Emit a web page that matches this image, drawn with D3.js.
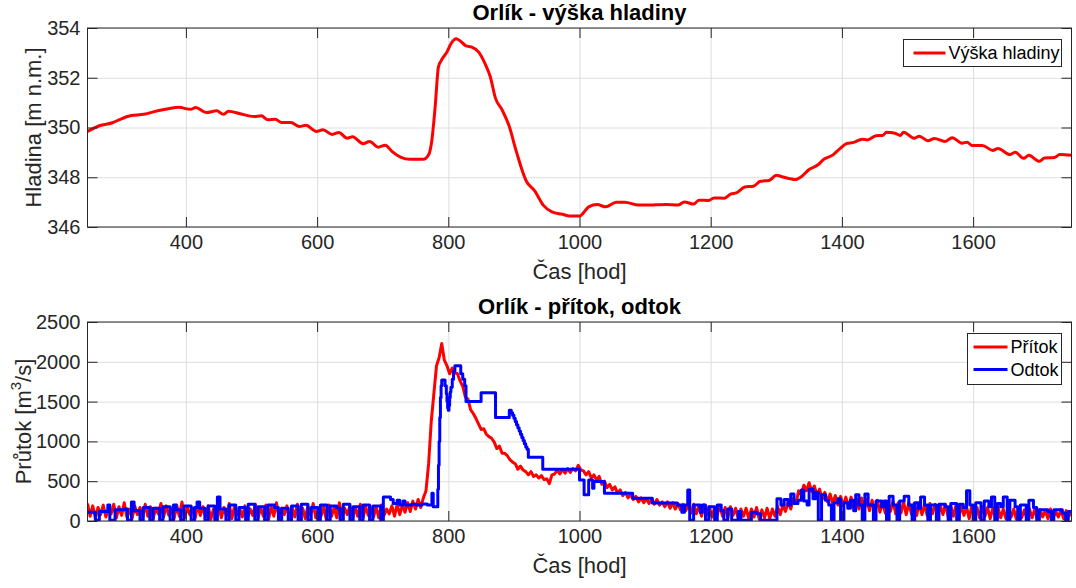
<!DOCTYPE html>
<html>
<head>
<meta charset="utf-8">
<script src="https://cdn.jsdelivr.net/npm/d3@7"></script>
<style>
  html, body { margin: 0; padding: 0; background: #ffffff; }
  svg { display: block; font-family: "Liberation Sans", Arial, Helvetica, sans-serif; }
</style>
</head>
<body>
<svg id="chart" width="1076" height="588"></svg>
<script>
// ---- Water level of the Orlík reservoir [m n.m.] ----
const levelHours = [
  250, 268, 289, 300, 315, 336, 357, 373, 389, 407,
  415, 431, 447, 457, 465, 483, 504, 515, 525, 536,
  546, 560, 573, 583, 599, 609, 623, 633, 646, 654,
  670, 680, 693, 704, 714, 728, 741, 762, 770, 775,
  780, 785, 791, 798, 804, 812, 820, 827, 835, 846,
  856, 864, 872, 882, 893, 903, 919, 932, 945, 958,
  974, 985, 1000, 1006, 1014, 1027, 1040, 1056, 1069, 1090,
  1116, 1132, 1150, 1160, 1174, 1182, 1197, 1205, 1221, 1231,
  1239, 1252, 1265, 1276, 1289, 1300, 1310, 1329, 1339, 1350,
  1363, 1373, 1386, 1397, 1407, 1418, 1431, 1439, 1452, 1462,
  1468, 1481, 1489, 1494, 1510, 1518, 1531, 1541, 1557, 1568,
  1583, 1591, 1598, 1614, 1630, 1638, 1656, 1664, 1677, 1685,
  1701, 1709, 1724, 1732, 1750
];
const levelValues = [
  349.84, 350.07, 350.20, 350.33, 350.47, 350.53, 350.67, 350.75, 350.81, 350.73,
  350.80, 350.60, 350.67, 350.53, 350.65, 350.55, 350.44, 350.47, 350.31, 350.33,
  350.20, 350.20, 350.04, 350.09, 349.84, 349.91, 349.72, 349.80, 349.57, 349.63,
  349.35, 349.44, 349.21, 349.29, 349.04, 348.80, 348.72, 348.72, 348.90, 349.50,
  350.84, 352.44, 352.77, 353.04, 353.37, 353.57, 353.44, 353.28, 353.24, 353.04,
  352.57, 352.04, 351.17, 350.71, 350.04, 349.10, 347.84, 347.44, 346.87, 346.61,
  346.51, 346.44, 346.44, 346.57, 346.81, 346.90, 346.81, 347.00, 347.00, 346.88,
  346.89, 346.90, 346.88, 347.01, 346.92, 347.08, 347.07, 347.17, 347.16, 347.33,
  347.37, 347.61, 347.64, 347.84, 347.87, 348.08, 348.01, 347.91, 348.04, 348.31,
  348.49, 348.73, 348.89, 349.15, 349.35, 349.40, 349.53, 349.50, 349.67, 349.68,
  349.81, 349.77, 349.68, 349.81, 349.57, 349.65, 349.47, 349.56, 349.44, 349.59,
  349.37, 349.41, 349.28, 349.28, 349.08, 349.16, 348.91, 349.01, 348.76, 348.88,
  348.64, 348.77, 348.79, 348.91, 348.88
];

// ---- Inflow [m3/s], sampled every 4 hours from hour 250 ----
const inflowStart = 250;
const inflowStep = 4;
const inflowValues = [
  220, 60, 190, 40, 170, 80, 200, 50, 160, 90,
  210, 40, 180, 70, 230, 50, 150, 30, 190, 80,
  170, 40, 210, 60, 180, 30, 160, 90, 220, 50,
  190, 70, 150, 30, 200, 60, 240, 40, 170, 80,
  160, 30, 210, 70, 180, 50, 190, 20, 150, 90,
  200, 40, 170, 60, 220, 30, 180, 80, 160, 50,
  190, 30, 150, 70, 210, 40, 170, 60, 200, 20,
  180, 60, 230, 40, 160, 80, 190, 30, 170, 50,
  210, 50, 160, 30, 190, 70, 220, 40, 150, 60,
  180, 20, 200, 60, 170, 40, 230, 50, 160, 80,
  190, 30, 170, 60, 210, 40, 180, 70, 160, 50,
  180, 40, 200, 70, 150, 90, 190, 60, 210, 80,
  200, 110, 230, 120, 250, 150, 270, 170, 290, 380,
  720, 1250, 1600, 1950, 2050, 2230, 2020, 1950, 1850, 1920,
  1860, 1850, 1760, 1690, 1560, 1530, 1400, 1350, 1290, 1220,
  1150, 1160, 1090, 1060, 1040, 990, 910, 940, 850, 850,
  820, 770, 740, 720, 650, 690, 640, 620, 580, 620,
  560, 580, 540, 570, 520, 530, 470, 580, 590, 640,
  590, 650, 600, 660, 610, 660, 630, 700, 640, 630,
  580, 620, 540, 580, 510, 560, 460, 500, 420, 460,
  390, 430, 350, 390, 320, 360, 290, 330, 270, 310,
  240, 290, 230, 280, 220, 270, 210, 270, 200, 240,
  180, 240, 160, 230, 150, 220, 140, 210, 130, 200,
  100, 210, 90, 190, 60, 200, 80, 180, 50, 170,
  80, 190, 60, 170, 40, 180, 70, 160, 30, 150,
  60, 160, 30, 150, 50, 170, 20, 140, 40, 160,
  30, 150, 60, 180, 80, 200, 120, 240, 150, 280,
  220, 380, 330, 450, 380, 480, 370, 440, 320, 400,
  270, 360, 240, 340, 220, 320, 200, 310, 190, 300,
  170, 300, 160, 280, 150, 290, 140, 270, 130, 260,
  120, 260, 110, 250, 100, 240, 120, 250, 90, 230,
  100, 240, 80, 230, 90, 220, 70, 230, 80, 210,
  70, 220, 90, 210, 60, 200, 80, 210, 50, 190,
  60, 200, 40, 190, 70, 180, 30, 190, 50, 170,
  40, 180, 60, 170, 30, 160, 50, 170, 40, 150,
  30, 160, 50, 150, 20, 170, 40, 140, 30, 150,
  40, 150, 20, 140, 50, 130, 30, 150, 40, 120,
  50, 140, 30, 130, 60, 110
];

// ---- Outflow [m3/s] as [hour, value]; each value holds until the next hour ----
const outflow = [
  [250, 110], [262, 10], [268, 120], [281, 200], [284, 10], [292, 140], [306, 150], [311, 10],
  [317, 240], [321, 130], [330, 10], [335, 170], [345, 10], [350, 160], [360, 10], [365, 180],
  [376, 10], [381, 200], [385, 140], [392, 10], [397, 190], [408, 10], [413, 170], [417, 240],
  [421, 160], [429, 10], [434, 190], [444, 10], [448, 300], [452, 150], [461, 10], [466, 200],
  [476, 10], [481, 170], [491, 10], [495, 210], [505, 10], [510, 180], [520, 10], [525, 200],
  [535, 170], [541, 10], [546, 160], [556, 10], [561, 190], [571, 10], [576, 210], [586, 10],
  [591, 170], [601, 10], [605, 200], [615, 10], [620, 190], [630, 160], [635, 10], [640, 210],
  [650, 10], [655, 180], [665, 10], [670, 200], [680, 10], [685, 190], [697, 10],
  [701, 300], [712, 270], [716, 220], [722, 260], [726, 200], [731, 250], [734, 200], [744, 210],
  [752, 200], [760, 215], [768, 200], [775, 350], [777, 180],
  [784, 400], [785, 700], [786, 1000], [787, 1300], [788, 1550], [789, 1700], [790, 1770],
  [795, 1700], [797, 1600], [798, 1500], [799, 1420], [800, 1390], [801, 1450], [802, 1550],
  [803, 1620], [804, 1680], [806, 1780], [808, 1880], [810, 1950], [819, 1850], [822, 1780],
  [825, 1700], [827, 1500], [850, 1610], [872, 1300], [893, 1390], [896, 1360], [898, 1330],
  [900, 1290], [902, 1250], [904, 1210], [906, 1170], [908, 1130], [910, 1090], [912, 1050],
  [914, 1010], [916, 970], [918, 930], [920, 900], [922, 800], [944, 650], [1000, 515],
  [1007, 330], [1014, 515], [1020, 410], [1022, 495], [1038, 350], [1081, 285], [1111, 225],
  [1149, 200], [1156, 110], [1160, 200], [1165, 390], [1168, 10], [1174, 200], [1184, 110],
  [1187, 200], [1192, 10], [1197, 180], [1206, 10], [1210, 200], [1216, 130], [1220, 10],
  [1226, 150], [1232, 10], [1242, 120], [1246, 10], [1262, 110], [1270, 90], [1276, 10],
  [1301, 280], [1307, 200], [1312, 270], [1318, 200], [1322, 340], [1327, 220], [1333, 260],
  [1338, 390], [1342, 250], [1347, 200], [1350, 400], [1356, 280], [1360, 360], [1364, 10],
  [1369, 330], [1375, 260], [1380, 200], [1384, 10], [1388, 230], [1394, 280], [1398, 10],
  [1403, 230], [1409, 160], [1413, 260], [1418, 130], [1421, 330], [1426, 200], [1431, 10],
  [1435, 340], [1440, 200], [1448, 10], [1452, 250], [1460, 180], [1464, 250], [1468, 10],
  [1472, 310], [1478, 200], [1484, 10], [1488, 250], [1495, 310], [1502, 200], [1507, 10],
  [1511, 230], [1516, 160], [1520, 300], [1526, 200], [1531, 10], [1535, 200], [1544, 10],
  [1548, 210], [1557, 180], [1562, 10], [1566, 220], [1575, 10], [1579, 210], [1585, 170],
  [1590, 380], [1595, 200], [1600, 10], [1604, 230], [1612, 10], [1617, 250], [1624, 180],
  [1628, 300], [1633, 10], [1637, 220], [1642, 180], [1646, 300], [1652, 10], [1656, 260],
  [1664, 180], [1668, 10], [1672, 200], [1681, 10], [1685, 260], [1692, 170], [1697, 10],
  [1701, 140], [1714, 120], [1719, 10], [1723, 140], [1736, 100], [1741, 10], [1745, 120],
  [1750, 120]
];

// ---- Axis ticks ----
const timeTicks = [400, 600, 800, 1000, 1200, 1400, 1600];
const levelTicks = [346, 348, 350, 352, 354];
const flowTicks = [0, 500, 1000, 1500, 2000, 2500];

const inflowSeries = inflowValues.map((v, i) => ({ h: inflowStart + i * inflowStep, v }));
const outflowSeries = outflow.map(([h, v]) => ({ h, v }));
const levelSeries = levelHours.map((h, i) => ({ h, v: levelValues[i] }));

// ---- Layout ----
const svg = d3.select("#chart");
const inkColor = "#262626";
const gridColor = "#dedede";
const plotLeft = 87.5, plotRight = 1071.5, plotHeight = 199;

const x = d3.scaleLinear().domain([250, 1750]).range([plotLeft, plotRight]);

function drawPanel(opts) {
  const top = opts.top, bottom = top + plotHeight;
  const y = d3.scaleLinear().domain(opts.yDomain).range([bottom, top]);
  const g = svg.append("g");
  const clipId = "clip-" + opts.key;
  svg.append("defs").append("clipPath").attr("id", clipId)
    .append("rect").attr("x", plotLeft).attr("y", top)
    .attr("width", plotRight - plotLeft).attr("height", plotHeight);

  // grid
  const grid = g.append("g").attr("class", "grid");
  grid.append("g").attr("transform", `translate(0,${bottom})`)
    .call(d3.axisBottom(x).tickValues(timeTicks).tickSize(-plotHeight).tickFormat(""))
    .call(s => s.select(".domain").remove())
    .call(s => s.selectAll("line").attr("stroke", gridColor));
  grid.append("g").attr("transform", `translate(${plotLeft},0)`)
    .call(d3.axisLeft(y).tickValues(opts.yTicks).tickSize(-(plotRight - plotLeft)).tickFormat(""))
    .call(s => s.select(".domain").remove())
    .call(s => s.selectAll("line").attr("stroke", gridColor));

  // data lines
  const plot = g.append("g").attr("clip-path", `url(#${clipId})`);
  opts.series.forEach(sr => {
    plot.append("path")
      .datum(sr.data)
      .attr("fill", "none")
      .attr("stroke", sr.color)
      .attr("stroke-width", 3)
      .attr("stroke-linejoin", "round")
      .attr("d", d3.line().x(d => x(d.h)).y(d => y(d.v)).curve(sr.curve));
  });

  // box
  g.append("rect").attr("x", plotLeft).attr("y", top)
    .attr("width", plotRight - plotLeft).attr("height", plotHeight)
    .attr("fill", "none").attr("stroke", inkColor).attr("stroke-width", 1);

  // ticks and labels
  const styleAxis = s => {
    s.select(".domain").remove();
    s.selectAll("line").attr("stroke", inkColor);
    s.selectAll("text").attr("fill", inkColor).attr("font-size", 20)
      .attr("font-family", '"Liberation Sans", Arial, Helvetica, sans-serif');
  };
  g.append("g").attr("transform", `translate(0,${bottom})`)
    .call(d3.axisBottom(x).tickValues(timeTicks).tickSize(-10).tickPadding(7.8).tickFormat(d3.format("d")))
    .call(styleAxis);
  g.append("g").attr("transform", `translate(0,${top})`)
    .call(d3.axisTop(x).tickValues(timeTicks).tickSize(-10).tickFormat(""))
    .call(styleAxis);
  g.append("g").attr("transform", `translate(${plotLeft},0)`)
    .call(d3.axisLeft(y).tickValues(opts.yTicks).tickSize(-10).tickPadding(7).tickFormat(d3.format("d")))
    .call(styleAxis);
  g.append("g").attr("transform", `translate(${plotRight},0)`)
    .call(d3.axisRight(y).tickValues(opts.yTicks).tickSize(-10).tickFormat(""))
    .call(styleAxis);

  // title
  g.append("text").attr("x", (plotLeft + plotRight) / 2).attr("y", top - 8)
    .attr("text-anchor", "middle").attr("font-size", 22).attr("font-weight", "bold")
    .attr("fill", "#000").text(opts.title);

  // x label
  g.append("text").attr("x", (plotLeft + plotRight) / 2).attr("y", bottom + 52)
    .attr("text-anchor", "middle").attr("font-size", 22).attr("fill", inkColor)
    .text("Čas [hod]");

  // y label
  const yl = g.append("text")
    .attr("transform", `translate(${opts.yLabelX},${(top + bottom) / 2}) rotate(-90)`)
    .attr("text-anchor", "middle").attr("dominant-baseline", "central")
    .attr("font-size", 22).attr("fill", inkColor);
  opts.yLabel(yl);

  // legend
  const lg = opts.legend;
  const leg = g.append("g");
  leg.append("rect").attr("x", lg.x).attr("y", top + lg.dy)
    .attr("width", lg.w).attr("height", lg.h)
    .attr("fill", "#fff").attr("stroke", inkColor).attr("stroke-width", 1);
  lg.items.forEach((it, i) => {
    const yy = top + lg.dy + lg.first + i * lg.gap;
    leg.append("line").attr("x1", lg.x + lg.lineStart).attr("x2", lg.x + lg.lineEnd)
      .attr("y1", yy).attr("y2", yy).attr("stroke", it.color).attr("stroke-width", 3);
    leg.append("text").attr("x", lg.x + lg.textX).attr("y", yy)
      .attr("dominant-baseline", "central").attr("font-size", 18).attr("fill", "#000")
      .text(it.label);
  });
}

drawPanel({
  key: "level",
  top: 28,
  yDomain: [346, 354],
  yTicks: levelTicks,
  title: "Orlík - výška hladiny",
  yLabelX: 33,
  yLabel: t => t.text("Hladina [m n.m.]"),
  series: [{ data: levelSeries, color: "#ff0000", curve: d3.curveMonotoneX }],
  legend: { x: 903.5, dy: 11.5, w: 158, h: 27, first: 13.5, gap: 22, lineStart: 10, lineEnd: 42, textX: 45,
            items: [{ label: "Výška hladiny", color: "#ff0000" }] }
});

drawPanel({
  key: "flow",
  top: 322,
  yDomain: [0, 2500],
  yTicks: flowTicks,
  title: "Orlík - přítok, odtok",
  yLabelX: 23,
  yLabel: t => {
    t.append("tspan").text("Průtok [m");
    t.append("tspan").attr("font-size", 15).attr("dy", -8).text("3");
    t.append("tspan").attr("dy", 8).text("/s]");
  },
  series: [
    { data: inflowSeries, color: "#ff0000", curve: d3.curveLinear },
    { data: outflowSeries, color: "#0000ff", curve: d3.curveStepAfter }
  ],
  legend: { x: 967.5, dy: 11.5, w: 94, h: 51, first: 13.5, gap: 22.5, lineStart: 6, lineEnd: 40, textX: 43,
            items: [{ label: "Přítok", color: "#ff0000" }, { label: "Odtok", color: "#0000ff" }] }
});
</script>
</body>
</html>
